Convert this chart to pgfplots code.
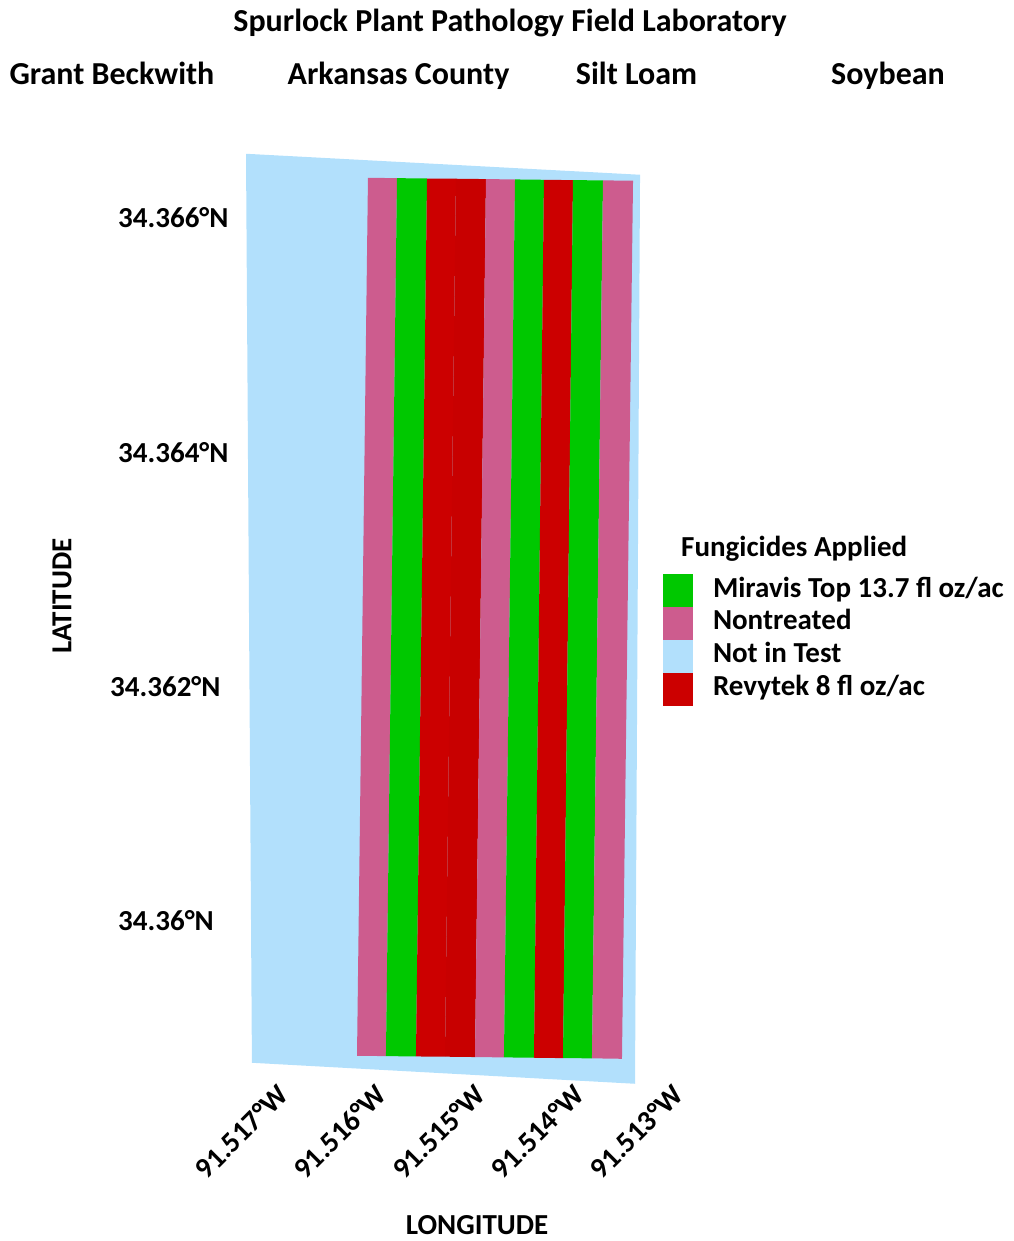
\documentclass[border=0pt]{standalone}
\usepackage{fontspec}
\setmainfont{Carlito}
\usepackage{pgfplots}
\pgfplotsset{compat=1.18}
\definecolor{pinkc}{RGB}{205,92,142}
\definecolor{greenc}{RGB}{0,200,0}
\definecolor{redc}{RGB}{204,0,0}
\definecolor{redd}{RGB}{200,0,0}
\definecolor{bluec}{RGB}{178,224,252}
\begin{document}
\begin{tikzpicture}
\useasboundingbox (0pt,0pt) rectangle (1013pt,1241pt);
\begin{axis}[
  at={(230.6pt,153.6pt)}, anchor=south west,
  scale only axis, width=444.4pt, height=945.8pt,
  xmin=-0.5, xmax=4, ymin=-1.42, ymax=6.65,
  axis line style={draw=none}, major tick length=0pt, tick style={draw=none},
  xtick={0,1,2,3,4},
  xticklabels={91.517°W,91.516°W,91.515°W,91.514°W,91.513°W},
  ytick={0,2,4,6},
  yticklabels={34.36°N,\hspace*{-8pt}34.362°N,34.364°N,34.366°N},
  xticklabel style={font=\fontsize{29}{34}\selectfont\bfseries, rotate=45, anchor=east, inner sep=0pt, yshift=-4pt},
  yticklabel style={font=\fontsize{29}{34}\selectfont\bfseries, anchor=west, inner sep=0pt, xshift=-112.6pt},
  legend style={at={(axis description cs:0.973,0.5423)}, anchor=north west,
    draw=none, fill=none, inner sep=0pt, outer sep=0pt,
    font=\fontsize{29}{34}\selectfont\bfseries,
    nodes={inner sep=0pt, outer sep=0pt, text height=22.5pt, text depth=10.2pt},
    row sep=0pt, column sep=20pt},
  legend cell align=left,
  legend image code/.code={\fill[#1,draw=none] (0pt,-16.4pt) rectangle (30pt,16.4pt);},
]
% Not in Test (field outline)
\addplot[fill=bluec, draw=none, forget plot] coordinates {(-0.344,6.546) (3.646,6.367) (3.595,-1.389) (-0.284,-1.210)} -- cycle;
% strips west to east
\addplot[fill=pinkc, draw=none, forget plot] coordinates {(0.891,6.341) (1.185,6.338) (1.073,-1.153) (0.780,-1.150)} -- cycle;
\addplot[fill=greenc, draw=none, forget plot] coordinates {(1.185,6.338) (1.489,6.335) (1.377,-1.156) (1.073,-1.153)} -- cycle;
\addplot[fill=redc, draw=none, forget plot] coordinates {(1.489,6.335) (1.782,6.333) (1.671,-1.158) (1.377,-1.156)} -- cycle;
\addplot[fill=redd, draw=none, forget plot] coordinates {(1.782,6.333) (2.086,6.330) (1.975,-1.161) (1.671,-1.158)} -- cycle;
\addplot[fill=pinkc, draw=none, forget plot] coordinates {(2.086,6.330) (2.380,6.327) (2.268,-1.164) (1.975,-1.161)} -- cycle;
\addplot[fill=greenc, draw=none, forget plot] coordinates {(2.380,6.327) (2.673,6.324) (2.572,-1.167) (2.268,-1.164)} -- cycle;
\addplot[fill=redc, draw=none, forget plot] coordinates {(2.673,6.324) (2.967,6.321) (2.866,-1.170) (2.572,-1.167)} -- cycle;
\addplot[fill=greenc, draw=none, forget plot] coordinates {(2.967,6.321) (3.271,6.319) (3.159,-1.172) (2.866,-1.170)} -- cycle;
\addplot[fill=pinkc, draw=none, forget plot] coordinates {(3.271,6.319) (3.575,6.316) (3.463,-1.176) (3.159,-1.172)} -- cycle;
\addlegendimage{fill=greenc}
\addlegendentry{Miravis Top 13.7 fl oz/ac}
\addlegendimage{fill=pinkc}
\addlegendentry{Nontreated}
\addlegendimage{fill=bluec}
\addlegendentry{Not in Test}
\addlegendimage{fill=redc}
\addlegendentry{Revytek 8 fl oz/ac}
\end{axis}
\node[font=\fontsize{29}{34}\selectfont\bfseries, anchor=base west, inner sep=0pt] at (681pt,684pt) {Fungicides Applied};
\node[font=\fontsize{32}{38}\selectfont\bfseries, anchor=base, inner sep=0pt] at (510pt,1209pt) {Spurlock Plant Pathology Field Laboratory};
\node[font=\fontsize{32}{38}\selectfont\bfseries, anchor=base, inner sep=0pt] at (112pt,1156pt) {Grant Beckwith};
\node[font=\fontsize{32}{38}\selectfont\bfseries, anchor=base, inner sep=0pt] at (398.5pt,1156pt) {Arkansas County};
\node[font=\fontsize{32}{38}\selectfont\bfseries, anchor=base, inner sep=0pt] at (636.5pt,1156pt) {Silt Loam};
\node[font=\fontsize{32}{38}\selectfont\bfseries, anchor=base, inner sep=0pt] at (888pt,1156pt) {Soybean};
\node[font=\fontsize{29}{34}\selectfont\bfseries, anchor=base, inner sep=0pt] at (477pt,6pt) {LONGITUDE};
\node[font=\fontsize{29}{34}\selectfont\bfseries, inner sep=0pt, rotate=90] at (62pt,645pt) {LATITUDE};
\end{tikzpicture}
\end{document}
